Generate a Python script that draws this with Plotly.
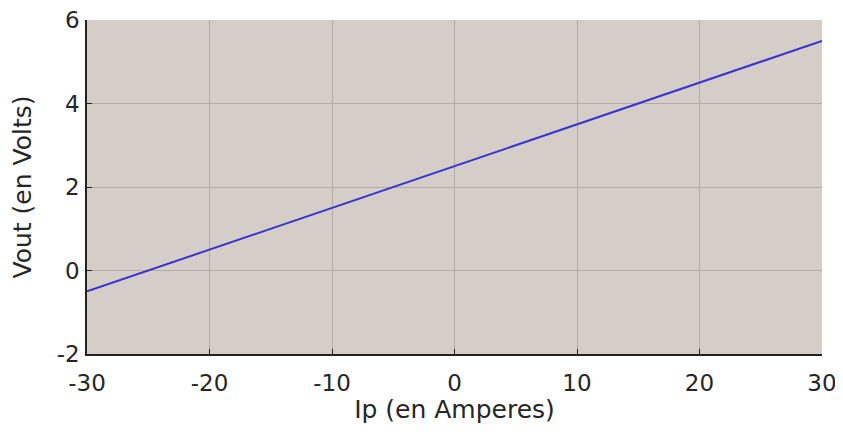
import plotly.graph_objects as go

ip = [-30, 30]
vout = [-0.5, 5.5]
x_ticks = [-30, -20, -10, 0, 10, 20, 30]
x_labels = ["-30", "-20", "-10", "0", "10", "20", "30"]
y_ticks = [-2, 0, 2, 4, 6]
y_labels = ["-2", "0", "2", "4", "6"]

fig = go.Figure()
fig.add_trace(go.Scatter(x=ip, y=vout, mode="lines",
                         line=dict(color="#3a32d0", width=2), showlegend=False))

font = dict(family="DejaVu Sans, sans-serif", size=23, color="#262626")
fig.update_layout(
    width=835, height=416,
    margin=dict(l=79, r=21, t=12, b=70),
    paper_bgcolor="white", plot_bgcolor="#d5cec8",
    font=font,
)
fig.update_xaxes(range=[-30, 30], tickvals=x_ticks, ticktext=x_labels,
                 showgrid=True, gridcolor="#b3aca6", automargin=False,
                 gridwidth=1, zeroline=False, showline=True, linecolor="#222222", linewidth=1.5,
                 ticks="inside", ticklen=5, tickcolor="#222222", ticklabelstandoff=8,
                 ticklabeloverflow="allow",
                 title=dict(text="Ip (en Amperes)", font=dict(size=25, color="#262626"), standoff=7))
fig.update_yaxes(range=[-2, 6], tickvals=y_ticks, ticktext=y_labels,
                 showgrid=True, gridcolor="#b3aca6", automargin=False,
                 gridwidth=1, zeroline=False, showline=True, linecolor="#222222", linewidth=1.5,
                 ticks="inside", ticklen=5, tickcolor="#222222", ticklabelstandoff=1,
                 ticklabeloverflow="allow",
                 title=dict(text="Vout (en Volts)", font=dict(size=25, color="#262626"), standoff=18))
fig.write_html("out.html")
